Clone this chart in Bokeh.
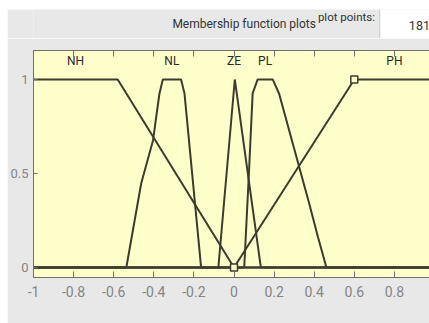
from bokeh.plotting import figure
from bokeh.layouts import column, row
from bokeh.models import Range1d, FixedTicker, LinearAxis, Spacer
from bokeh.core.properties import value
from bokeh.embed import file_html
from bokeh.resources import INLINE

# ---- data ----
x_ticks = [-1, -0.8, -0.6, -0.4, -0.2, 0, 0.2, 0.4, 0.6, 0.8]
x_tick_labels = ["-1", "-0.8", "-0.6", "-0.4", "-0.2", "0", "0.2", "0.4", "0.6", "0.8"]
y_ticks = [0, 0.5, 1]
y_tick_labels = ["0", "0.5", "1"]

nh_x = [-1, -0.58, 0.0, 1]
nh_y = [1, 1, 0, 0]
nl_x = [-1, -0.537, -0.463, -0.404, -0.372, -0.355, -0.264, -0.247, -0.164, 1]
nl_y = [0, 0, 0.447, 0.676, 0.924, 1, 1, 0.926, 0, 0]
ze_x = [-1, -0.078, 0.004, 0.134, 1]
ze_y = [0, 0, 1, 0, 0]
pl_x = [-1, 0.051, 0.075, 0.093, 0.118, 0.193, 0.225, 0.375, 0.419, 0.461, 1]
pl_y = [0, 0, 0.516, 0.926, 1, 1, 0.924, 0.34, 0.161, 0, 0]
ph_x = [-1, 0.0, 0.6, 1]
ph_y = [0, 0, 1, 1]

mf_names = ["NH", "NL", "ZE", "PL", "PH"]
mf_label_x = [-0.79, -0.31, 0.0, 0.155, 0.8]
mf_label_y = [1.10, 1.10, 1.10, 1.10, 1.10]

sel_x = [0.0, 0.6]
sel_y = [0.0, 1.0]

header_texts = ["Membership function plots", "plot points:", "181"]

FONT = "Roboto"
LINE = "#3c3c2e"
GRAY_TXT = "#858585"
BG = "#e8e8e8"

# ---- header strip (page pixel coordinates) ----
hdr = figure(width=422, height=29, output_backend="svg", toolbar_location=None,
             x_range=Range1d(7, 429), y_range=Range1d(38, 9),
             min_border=0, x_axis_location=None, y_axis_location=None,
             outline_line_color=None, background_fill_color=BG, border_fill_color=BG)
hdr.grid.visible = False
hdr.quad(left=[376], right=[431], top=[7], bottom=[38.5], fill_color="white",
         line_color="#c8c8c8", line_width=1)
hdr.text(x=[231.5], y=[23], text=[header_texts[0]], text_font=value(FONT),
         text_font_size="12px", text_color="#333333", text_align="center",
         text_baseline="middle")
hdr.text(x=[340.5], y=[16.5], text=[header_texts[1]], text_font=value(FONT),
         text_font_size="11.5px", text_color="#333333", text_align="center",
         text_baseline="middle")
hdr.text(x=[407], y=[25], text=[header_texts[2]], text_font=value(FONT),
         text_font_size="12.5px", text_color="#333333", text_align="left",
         text_baseline="middle")

# ---- main membership plot ----
p = figure(width=422, height=285, output_backend="svg", toolbar_location=None,
           x_range=Range1d(-1, 0.975), y_range=Range1d(-0.053, 1.154),
           min_border_left=25, min_border_right=0, min_border_top=12, min_border_bottom=46,
           background_fill_color="#ffffcc", border_fill_color=BG,
           outline_line_color=None, x_axis_location=None, y_axis_location=None)
p.grid.visible = False

xb = LinearAxis(ticker=FixedTicker(ticks=x_ticks),
                major_label_overrides={t: l for t, l in zip(x_ticks, x_tick_labels)})
xt = LinearAxis(ticker=FixedTicker(ticks=x_ticks))
yl = LinearAxis(ticker=FixedTicker(ticks=y_ticks),
                major_label_overrides={t: l for t, l in zip(y_ticks, y_tick_labels)})
for ax in (xb, xt, yl):
    ax.axis_line_color = "#6e6e6e"
    ax.major_tick_line_color = "#6e6e6e"
    ax.major_tick_in = 6
    ax.major_tick_out = 0
    ax.minor_tick_line_color = None
    ax.major_label_text_font = FONT
    ax.major_label_text_font_size = "14px"
    ax.major_label_text_color = GRAY_TXT
xt.major_label_text_color = None
xt.major_label_text_font_size = "0px"
xt.major_label_standoff = 0
xb.major_label_standoff = 8
yl.major_label_standoff = 5
yl.major_label_text_font_size = "13px"
yl.major_tick_in = 4
p.add_layout(xb, "below")
p.add_layout(xt, "above")
p.add_layout(yl, "left")

for xs, ys in [(nh_x, nh_y), (nl_x, nl_y), (ze_x, ze_y), (pl_x, pl_y), (ph_x, ph_y)]:
    p.line(xs, ys, line_color=LINE, line_width=2)

p.scatter(sel_x, sel_y, marker="square", size=7, fill_color="#ffffcc",
          line_color=LINE, line_width=1.5)

p.text(x=mf_label_x, y=mf_label_y, text=mf_names, text_font=value(FONT),
       text_font_size="12px", text_color="#2a2a2a", text_align="center",
       text_baseline="middle")

layout = column(Spacer(width=429, height=9),
                row(Spacer(width=7, height=314), column(hdr, p, spacing=0), spacing=0),
                spacing=0)
open("out.html", "w").write(file_html(layout, INLINE))
